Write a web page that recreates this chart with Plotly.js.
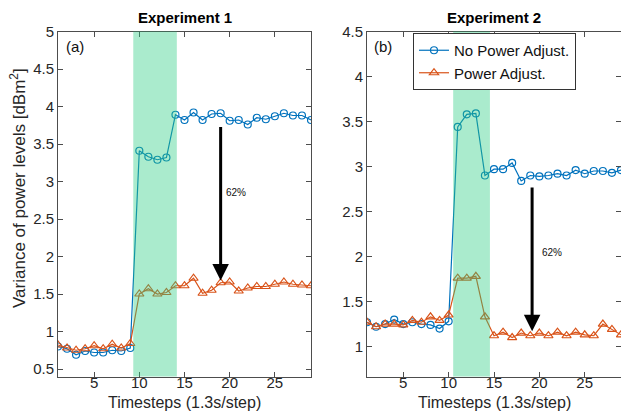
<!DOCTYPE html>
<html>
<head>
<meta charset="utf-8">
<script src="https://cdn.plot.ly/plotly-3.0.1.min.js"></script>
<style>html,body{margin:0;padding:0;background:#fff;}#chart{width:621px;height:415px;}</style>
</head>
<body>
<div id="chart"></div>
<script>
// Timesteps
const steps = [1,2,3,4,5,6,7,8,9,10,11,12,13,14,15,16,17,18,19,20,21,22,23,24,25,26,27,28,29];

// Experiment 1
const exp1NoAdjust = [0.80,0.77,0.69,0.74,0.72,0.72,0.75,0.74,0.78,3.41,3.33,3.29,3.32,3.89,3.82,3.92,3.82,3.90,3.91,3.81,3.82,3.76,3.85,3.83,3.87,3.91,3.88,3.88,3.82];
const exp1Adjust   = [0.82,0.78,0.75,0.77,0.81,0.77,0.83,0.78,0.84,1.50,1.57,1.50,1.52,1.61,1.61,1.71,1.51,1.55,1.65,1.66,1.54,1.58,1.60,1.60,1.63,1.66,1.63,1.62,1.61];

// Experiment 2
const exp2NoAdjust = [1.27,1.22,1.25,1.30,1.25,1.27,1.25,1.24,1.20,1.28,3.44,3.58,3.59,2.90,2.97,2.97,3.04,2.84,2.90,2.89,2.90,2.92,2.90,2.96,2.92,2.95,2.95,2.93,2.96];
const exp2Adjust   = [1.27,1.22,1.25,1.25,1.24,1.29,1.27,1.33,1.29,1.35,1.76,1.76,1.78,1.33,1.12,1.16,1.10,1.15,1.12,1.15,1.12,1.16,1.12,1.16,1.13,1.12,1.25,1.19,1.13];

// Shaded intervals and annotations
const shade1 = [9.33, 14.15];
const shade2 = [10.5, 14.55];
const arrow1 = {x: 19, from: 3.84, to: 1.68, label: "62%", lx: 20.7, ly: 2.86};
const arrow2 = {x: 19.2, from: 2.86, to: 1.17, label: "62%", lx: 21.4, ly: 2.05};
const titles = ["Experiment 1", "Experiment 2"];
const panelTags = ["(a)", "(b)"];
const seriesNames = ["No Power Adjust.", "Power Adjust."];
const xTitle = "Timesteps (1.3s/step)";
const yTitle = "Variance of power levels [dBm<sup>2</sup>]";

const BLUE = "#0072BD", ORANGE = "#D95319";
const FONT = "Liberation Sans, Arial, sans-serif";

function mk(x, y, name, color, symbol, xa, ya, show) {
  return {
    x: x, y: y, name: name, type: "scatter", mode: "lines+markers",
    xaxis: xa, yaxis: ya, showlegend: show,
    line: {color: color, width: 1.2},
    marker: {symbol: symbol, size: symbol.indexOf("triangle") === 0 ? 8 : 7, color: color, line: {color: color, width: 1.2}}
  };
}

const traces = [
  mk(steps, exp1NoAdjust, seriesNames[0], BLUE, "circle-open", "x", "y", false),
  mk(steps, exp1Adjust, seriesNames[1], ORANGE, "triangle-up-open", "x", "y", false),
  mk(steps, exp2NoAdjust, seriesNames[0], BLUE, "circle-open", "x2", "y2", true),
  mk(steps, exp2Adjust, seriesNames[1], ORANGE, "triangle-up-open", "x2", "y2", true)
];

const axisCommon = {
  showgrid: false, zeroline: false, showline: true, mirror: "ticks",
  linecolor: "#4d4d4d", linewidth: 1, ticks: "inside", ticklen: 5, tickcolor: "#4d4d4d",
  tickfont: {family: FONT, size: 15, color: "#262626"}
};

const H = 415, W = 621;
const yDom = [(H - 376.5) / H, (H - 31.5) / H];

const layout = {
  width: W, height: H,
  margin: {l: 0, r: 0, t: 0, b: 0},
  paper_bgcolor: "#fff", plot_bgcolor: "#fff",
  font: {family: FONT, color: "#262626"},
  xaxis: Object.assign({}, axisCommon, {domain: [58 / W, 311 / W], range: [1, 29], tickvals: [5, 10, 15, 20, 25], anchor: "y", ticklabelstandoff: -8}),
  yaxis: Object.assign({}, axisCommon, {domain: yDom, range: [0.4, 5], dtick: 0.5, tick0: 0.5, anchor: "x"}),
  xaxis2: Object.assign({}, axisCommon, {domain: [367 / W, 1], range: [1, 29], tickvals: [5, 10, 15, 20, 25], anchor: "y2", ticklabelstandoff: -8}),
  yaxis2: Object.assign({}, axisCommon, {domain: yDom, range: [0.667, 4.5], dtick: 0.5, tick0: 0.5, anchor: "x2"}),
  legend: {
    x: 413 / W, y: 1 - 33 / H, xanchor: "left", yanchor: "top",
    bgcolor: "#fff", bordercolor: "#333", borderwidth: 1,
    font: {family: FONT, size: 15, color: "#111"},
    itemwidth: 30, tracegroupgap: 0
  },
  shapes: [
    {type: "rect", xref: "x", yref: "paper", x0: shade1[0], x1: shade1[1], y0: yDom[0], y1: yDom[1],
     fillcolor: "rgb(42,205,130)", opacity: 0.4, line: {width: 0}, layer: "above"},
    {type: "rect", xref: "x2", yref: "paper", x0: shade2[0], x1: shade2[1], y0: yDom[0], y1: yDom[1],
     fillcolor: "rgb(42,205,130)", opacity: 0.4, line: {width: 0}, layer: "above"}
  ],
  annotations: [
    {text: "<b>" + titles[0] + "</b>", xref: "paper", yref: "paper", x: (58 + 311) / 2 / W, y: 1 - 17 / H, showarrow: false, font: {size: 15, color: "#000"}, xanchor: "center", yanchor: "middle"},
    {text: "<b>" + titles[1] + "</b>", xref: "paper", yref: "paper", x: (367 + 621) / 2 / W, y: 1 - 17 / H, showarrow: false, font: {size: 15, color: "#000"}, xanchor: "center", yanchor: "middle"},
    {text: panelTags[0], xref: "paper", yref: "paper", x: 64 / W, y: 1 - 47 / H, showarrow: false, font: {size: 15, color: "#111"}, xanchor: "left", yanchor: "middle"},
    {text: panelTags[1], xref: "paper", yref: "paper", x: 372 / W, y: 1 - 47 / H, showarrow: false, font: {size: 15, color: "#111"}, xanchor: "left", yanchor: "middle"},
    {text: xTitle, xref: "paper", yref: "paper", x: (58 + 311) / 2 / W, y: 1 - 402 / H, showarrow: false, font: {size: 16, color: "#262626"}, xanchor: "center", yanchor: "middle"},
    {text: xTitle, xref: "paper", yref: "paper", x: (367 + 621) / 2 / W, y: 1 - 402 / H, showarrow: false, font: {size: 16, color: "#262626"}, xanchor: "center", yanchor: "middle"},
    {text: yTitle, xref: "paper", yref: "paper", x: 18 / W, y: 1 - 188 / H, showarrow: false, textangle: -90, font: {size: 17, color: "#262626"}, xanchor: "center", yanchor: "middle"},
    {x: arrow1.x, y: arrow1.to, ax: arrow1.x, ay: arrow1.from, xref: "x", yref: "y", axref: "x", ayref: "y",
     showarrow: true, arrowhead: 2, arrowsize: 1.1, arrowwidth: 3, arrowcolor: "#000", text: " "},
    {x: arrow2.x, y: arrow2.to, ax: arrow2.x, ay: arrow2.from, xref: "x2", yref: "y2", axref: "x2", ayref: "y2",
     showarrow: true, arrowhead: 2, arrowsize: 1.1, arrowwidth: 3, arrowcolor: "#000", text: " "},
    {text: arrow1.label, x: arrow1.lx, y: arrow1.ly, xref: "x", yref: "y", showarrow: false, font: {size: 10, color: "#111"}},
    {text: arrow2.label, x: arrow2.lx, y: arrow2.ly, xref: "x2", yref: "y2", showarrow: false, font: {size: 10, color: "#111"}}
  ]
};

Plotly.newPlot("chart", traces, layout, {displayModeBar: false, staticPlot: true});
</script>
</body>
</html>
